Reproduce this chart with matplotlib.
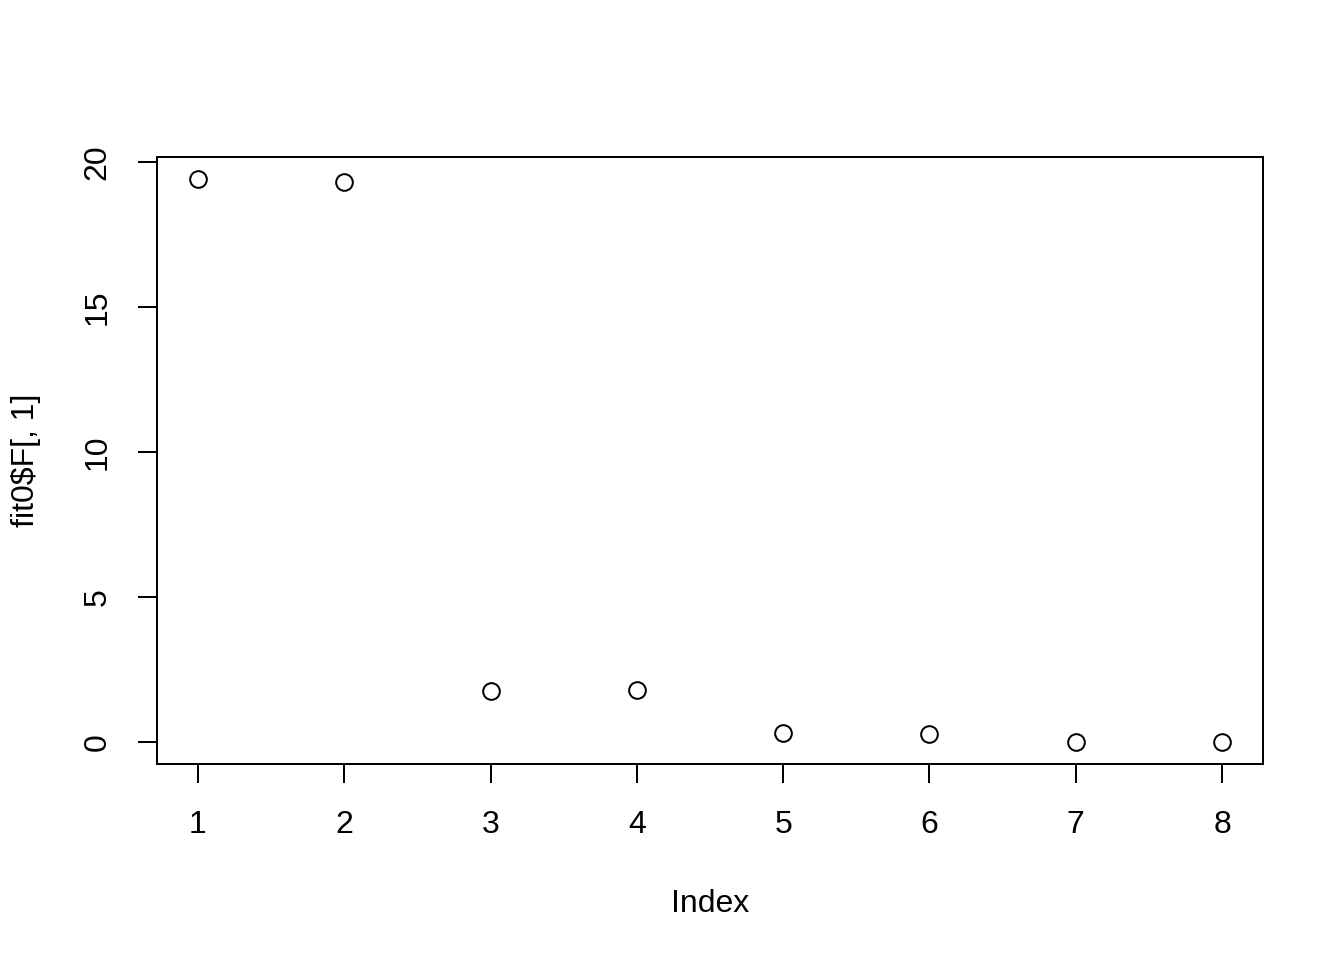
import numpy as np
import matplotlib
matplotlib.use("Agg")
import matplotlib.pyplot as plt

# DATA
index = [1, 2, 3, 4, 5, 6, 7, 8]
f_values = [19.41, 19.31, 1.76, 1.80, 0.31, 0.26, 0.01, 0.01]

plt.rcParams['font.family'] = ['Liberation Sans', 'DejaVu Sans']

fig = plt.figure(figsize=(13.44, 9.6), dpi=100)
ax = fig.add_axes([157 / 1344, 1 - 764 / 960, (1263 - 157) / 1344, (764 - 157) / 960])

ax.plot(index, f_values, linestyle='none', marker='o', markersize=12,
        markerfacecolor='none', markeredgecolor='black', markeredgewidth=1.44)

# R style 4% padding
xr = max(index) - min(index)
ax.set_xlim(min(index) - 0.04 * xr, max(index) + 0.04 * xr)
yr = max(f_values) - min(f_values)
ax.set_ylim(min(f_values) - 0.04 * yr, max(f_values) + 0.04 * yr)

ax.set_xticks(index)
ax.set_yticks([0, 5, 10, 15, 20])

for s in ax.spines.values():
    s.set_linewidth(1.44)

ax.tick_params(axis='both', direction='out', length=13.8, width=1.44,
               labelsize=23, pad=18)
ax.tick_params(axis='x', pad=19.5)
ax.tick_params(axis='y', labelrotation=90)
for lab in ax.get_yticklabels():
    lab.set_va('center')

ax.set_xlabel('Index', fontsize=23, labelpad=35)
ax.set_ylabel('fit0$F[, 1]', fontsize=23, labelpad=30)

fig.savefig('out.png', dpi=100)
